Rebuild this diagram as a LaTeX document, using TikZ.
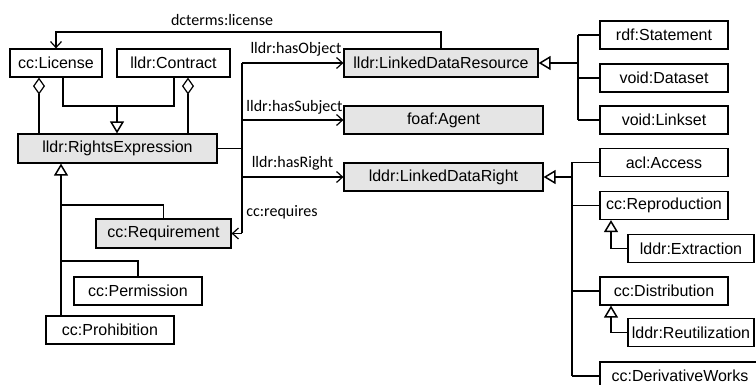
\documentclass[tikz,border=0pt]{standalone}
\usepackage{fontspec}
\setmainfont{Liberation Sans}
\newfontfamily\lblfont{Carlito}
\usetikzlibrary{arrows.meta,calc}
\begin{document}
\begin{tikzpicture}[x=1pt,y=-1pt,
 box/.style={draw=black,line width=1.2pt,minimum height=28pt,inner sep=0pt,font=\fontsize{16}{19}\selectfont,anchor=center},
 gbox/.style={box,fill=black!10},
 conn/.style={line width=1.2pt},
 gen/.style={line width=1.8pt},
 assoc/.style={conn,-{Straight Barb[length=6pt,width=11pt,line width=1.2pt]}},
 inh/.style={gen,-{Triangle[open,length=12pt,width=14pt,line width=1.5pt,fill=white]}},
 aggr/.style={conn,-{Diamond[open,length=17pt,width=12pt,line width=1.2pt,fill=white]}},
 lbl/.style={font=\lblfont\fontsize{16}{19}\selectfont,inner sep=0pt}
]
\useasboundingbox (0,0) rectangle (756,385);
\clip (0,0) rectangle (756,385);

% boxes
\node[box,minimum width=92pt] (license) at (56,63) {cc:License};
\node[box,minimum width=113pt] (contract) at (173.5,63) {lldr:Contract};
\node[gbox,minimum width=199pt,minimum height=29pt] (rights) at (117.5,148.5) {lldr:RightsExpression};
\node[gbox,minimum width=194pt] (ldres) at (441,63) {lldr:LinkedDataResource};
\node[gbox,minimum width=199pt] (agent) at (443.5,120) {foaf:Agent};
\node[gbox,minimum width=199pt] (ldright) at (443.5,177) {lddr:LinkedDataRight};
\node[gbox,minimum width=135pt,minimum height=29pt] (req) at (163.5,233.5) {cc:Requirement};
\node[box,minimum width=128pt] (perm) at (138,291) {cc:Permission};
\node[box,minimum width=128pt] (prohib) at (110,330) {cc:Prohibition};
\node[box,minimum width=128pt] (stmt) at (664,35) {rdf:Statement};
\node[box,minimum width=128pt] (dataset) at (664,78) {void:Dataset};
\node[box,minimum width=128pt] (linkset) at (664,120) {void:Linkset};
\node[box,minimum width=128pt] (access) at (664,162.5) {acl:Access};
\node[box,minimum width=128pt] (repro) at (664,205.5) {cc:Reproduction};
\node[box,minimum width=126pt] (extraction) at (691,248.5) {lddr:Extraction};
\node[box,minimum width=128pt] (distrib) at (664,291) {cc:Distribution};
\node[box,minimum width=126pt] (reutil) at (691,332.5) {lddr:Reutilization};
\node[box,minimum width=160pt] (deriv) at (680,376) {cc:DerivativeWorks};

% helper coordinates
\coordinate (xa) at (39,0);
\coordinate (xb) at (188,0);
\coordinate (xc) at (63,0);
\coordinate (xd) at (174,0);
\coordinate (xe) at (117,0);
\coordinate (ja) at (0,106);
\coordinate (xt) at (242,0);
\coordinate (xl) at (61,0);
\coordinate (yq) at (0,205);
\coordinate (yp) at (0,261);
\coordinate (xr1) at (578,0);
\coordinate (xr2) at (572,0);
\coordinate (xs) at (611,0);
\coordinate (yd) at (0,32);

% aggregation
\draw[aggr] (rights.north -| xa) -- (license.south -| xa);
\draw[aggr] (rights.north -| xb) -- (contract.south -| xb);

% license/contract generalization
\draw[gen] (license.south -| xc) |- (ja -| xd) -- (contract.south -| xd);
\draw[inh] (ja -| xe) -- (rights.north -| xe);

% dcterms:license
\draw[assoc] (ldres.north) |- (yd -| license.north) -- (license.north);
\node[lbl] (dlbl) at (222,20) {dcterms:license};

% associations
\draw[conn] (rights.east) -- (rights.east -| xt);
\draw[conn] (ldres.west -| xt) -- (req.east -| xt);
\draw[assoc] (ldres.west -| xt) -- (ldres.west);
\draw[assoc] (agent.west -| xt) -- (agent.west);
\draw[assoc] (ldright.west -| xt) -- (ldright.west);
\draw[assoc] (req.east -| xt) -- (req.east);
\node[lbl] (l1) at (296,49) {lldr:hasObject};
\node[lbl] (l2) at (294.5,107) {lldr:hasSubject};
\node[lbl] (l3) at (292.5,163) {lldr:hasRight};
\node[lbl] (l4) at (282,212) {cc:requires};

% rights expression subclasses
\draw[inh] (prohib.north -| xl) -- (rights.south -| xl);
\draw[gen] (yq -| xl) -| (req.north);
\draw[gen] (yp -| xl) -| (perm.north);

% linked data resource subclasses
\draw[inh] (ldres.east -| xr1) -- (ldres.east);
\draw[gen] (stmt.west -| xr1) -- (linkset.west -| xr1);
\draw[gen] (stmt.west -| xr1) -- (stmt.west);
\draw[gen] (dataset.west -| xr1) -- (dataset.west);
\draw[gen] (linkset.west -| xr1) -- (linkset.west);

% linked data right subclasses
\draw[inh] (ldright.east -| xr2) -- (ldright.east);
\draw[gen] (access.west -| xr2) -- (deriv.west -| xr2);
\draw[gen] (access.west -| xr2) -- (access.west);
\draw[gen] (repro.west -| xr2) -- (repro.west);
\draw[gen] (distrib.west -| xr2) -- (distrib.west);
\draw[gen] (deriv.west -| xr2) -- (deriv.west);

% nested subclasses
\draw[inh] (extraction.west) -| (repro.south -| xs);
\draw[inh] (reutil.west) -| (distrib.south -| xs);
\end{tikzpicture}
\end{document}
